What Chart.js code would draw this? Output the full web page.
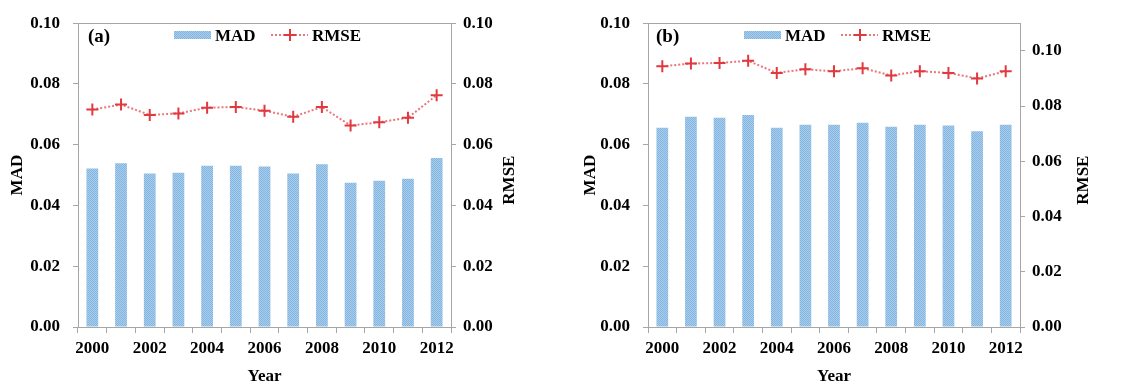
<!DOCTYPE html>
<html>
<head>
<meta charset="utf-8">
<script src="https://cdn.jsdelivr.net/npm/chart.js@4.4.1/dist/chart.umd.min.js"></script>
<style>
  html, body { margin: 0; padding: 0; background: #ffffff; }
  #wrap { position: relative; width: 1141px; height: 385px; overflow: hidden; }
  .panel { position: absolute; top: 0; height: 385px; }
  #pa { left: 0; width: 570px; }
  #pb { left: 570px; width: 571px; }
</style>
</head>
<body>
<div id="wrap">
  <div class="panel" id="pa"><canvas id="chartA"></canvas></div>
  <div class="panel" id="pb"><canvas id="chartB"></canvas></div>
</div>
<script>
// Years on the x axis
const years = ['2000', '2001', '2002', '2003', '2004', '2005', '2006',
               '2007', '2008', '2009', '2010', '2011', '2012'];

// Panel (a)
const madA  = [0.0522, 0.0539, 0.0505, 0.0508, 0.0531, 0.0531, 0.0528,
               0.0505, 0.0536, 0.0475, 0.0481, 0.0488, 0.0556];
const rmseA = [0.0716, 0.0732, 0.0698, 0.0703, 0.0722, 0.0724, 0.0712,
               0.0692, 0.0724, 0.0663, 0.0674, 0.0689, 0.0763];

// Panel (b)
const madB  = [0.0656, 0.0692, 0.0689, 0.0698, 0.0656, 0.0666, 0.0666,
               0.0672, 0.0659, 0.0666, 0.0663, 0.0644, 0.0666];
const rmseB = [0.0944, 0.0954, 0.0956, 0.0964, 0.0920, 0.0933, 0.0926,
               0.0937, 0.0911, 0.0926, 0.0920, 0.0900, 0.0926];

// Axis ranges
const madMax   = 0.10;
const rmseMaxA = 0.10;
const rmseMaxB = 0.11;
const tickStep = 0.02;

const FONT_FAMILY = "'Liberation Serif', 'Times New Roman', serif";
const AXIS_GRAY = '#a6a6a6';
const LINE_RED = '#e9777b';
const MARK_RED = '#e0393f';

// Fine blue checkerboard fill used by the MAD bars
function checkerFill() {
  const c = document.createElement('canvas');
  c.width = 2; c.height = 2;
  const g = c.getContext('2d');
  g.fillStyle = '#a9cdea';
  g.fillRect(0, 0, 2, 2);
  g.fillStyle = '#82b5df';
  g.fillRect(0, 0, 1, 1);
  g.fillRect(1, 1, 1, 1);
  return g.createPattern(c, 'repeat');
}

// Top edge of the plot frame
const frameTop = {
  id: 'frameTop',
  afterDatasetsDraw(chart) {
    const { ctx, chartArea: ca } = chart;
    ctx.save();
    ctx.strokeStyle = AXIS_GRAY;
    ctx.lineWidth = 1;
    ctx.beginPath();
    ctx.moveTo(ca.left, Math.round(ca.top) + 0.5);
    ctx.lineTo(ca.right, Math.round(ca.top) + 0.5);
    ctx.stroke();
    ctx.restore();
  }
};

// Panel tag, in-plot legend and right-hand axis title
const annotations = {
  id: 'annotations',
  afterDraw(chart, args, opts) {
    const { ctx, chartArea: ca } = chart;
    const line = chart.data.datasets[0];
    const bar = chart.data.datasets[1];
    ctx.save();

    // panel tag
    ctx.fillStyle = '#000';
    ctx.textAlign = 'left';
    ctx.textBaseline = 'alphabetic';
    ctx.font = 'bold 19px ' + FONT_FAMILY;
    ctx.fillText(opts.tag, ca.left + opts.tagX, 42);

    // legend: bar swatch
    const lx = ca.left + 96;
    ctx.fillStyle = bar.backgroundColor;
    ctx.fillRect(lx, 31, 37, 8);
    ctx.fillStyle = '#000';
    ctx.font = 'bold 17px ' + FONT_FAMILY;
    ctx.fillText(bar.label, lx + 41, 41);

    // legend: dotted line with cross marker
    const sx = ca.left + 193;
    ctx.strokeStyle = line.borderColor;
    ctx.lineWidth = line.borderWidth;
    ctx.setLineDash(line.borderDash);
    ctx.beginPath();
    ctx.moveTo(sx, 35);
    ctx.lineTo(sx + 37, 35);
    ctx.stroke();
    ctx.setLineDash([]);
    ctx.strokeStyle = line.pointBorderColor;
    ctx.lineWidth = line.pointBorderWidth;
    const r = line.pointRadius;
    const cx = sx + 19;
    ctx.beginPath();
    ctx.moveTo(cx - r, 35); ctx.lineTo(cx + r, 35);
    ctx.moveTo(cx, 35 - r); ctx.lineTo(cx, 35 + r);
    ctx.stroke();
    ctx.fillStyle = '#000';
    ctx.fillText(line.label, sx + 41, 41);

    // right axis title, read bottom to top
    ctx.translate(opts.rightTitleX, (ca.top + ca.bottom) / 2 + 5);
    ctx.rotate(-Math.PI / 2);
    ctx.textAlign = 'center';
    ctx.textBaseline = 'middle';
    ctx.font = 'bold 17px ' + FONT_FAMILY;
    ctx.fillText(opts.rightTitle, 0, 0);
    ctx.restore();
  }
};

function makeChart(id, tag, mad, rmse, rmseMax, layout) {
  const ctx = document.getElementById(id).getContext('2d');
  const tickFont = { family: FONT_FAMILY, size: 17, weight: 'bold' };
  return new Chart(ctx, {
    type: 'bar',
    data: {
      labels: years,
      datasets: [
        {
          type: 'line',
          label: 'RMSE',
          data: rmse,
          yAxisID: 'y2',
          order: 0,
          borderColor: LINE_RED,
          borderWidth: 2,
          borderDash: [2, 2],
          tension: 0,
          fill: false,
          pointStyle: 'cross',
          pointRadius: 6,
          pointBorderWidth: 2,
          pointBorderColor: MARK_RED,
          pointBackgroundColor: MARK_RED
        },
        {
          type: 'bar',
          label: 'MAD',
          data: mad,
          yAxisID: 'y',
          order: 1,
          backgroundColor: checkerFill(),
          borderWidth: 0,
          barPercentage: 0.41,
          categoryPercentage: 1.0
        }
      ]
    },
    options: {
      responsive: true,
      maintainAspectRatio: false,
      animation: false,
      devicePixelRatio: 1,
      layout: { padding: { top: 18, left: 0, right: 0, bottom: 0 } },
      plugins: {
        legend: { display: false },
        tooltip: { enabled: false },
        annotations: {
          tag: tag,
          tagX: layout.tagX,
          rightTitle: 'RMSE',
          rightTitleX: layout.rightTitleX
        }
      },
      scales: {
        x: {
          offset: true,
          grid: {
            offset: true,
            drawOnChartArea: false,
            drawTicks: true,
            tickLength: 6,
            color: AXIS_GRAY
          },
          border: { display: true, color: AXIS_GRAY, width: 1 },
          ticks: {
            autoSkip: false,
            maxRotation: 0,
            minRotation: 0,
            padding: 5,
            color: '#000',
            font: tickFont,
            callback: function (v, i) { return i % 2 === 0 ? years[i] : ''; }
          },
          title: {
            display: true,
            text: 'Year',
            color: '#000',
            font: { family: FONT_FAMILY, size: 17, weight: 'bold', lineHeight: 1 },
            padding: { top: 0, bottom: 0 }
          },
          afterFit: function (s) { s.height = 58; }
        },
        y: {
          position: 'left',
          min: 0,
          max: madMax,
          grid: {
            drawOnChartArea: false,
            drawTicks: true,
            tickLength: 5,
            color: AXIS_GRAY
          },
          border: { display: true, color: AXIS_GRAY, width: 1 },
          ticks: {
            stepSize: tickStep,
            padding: 13,
            color: '#000',
            font: tickFont,
            callback: function (v) { return v.toFixed(2); }
          },
          title: {
            display: true,
            text: 'MAD',
            color: '#000',
            font: { family: FONT_FAMILY, size: 17, weight: 'bold', lineHeight: 1 },
            padding: { top: layout.leftTitlePad, bottom: 0 }
          },
          afterFit: function (s) { s.width = 78; }
        },
        y2: {
          position: 'right',
          min: 0,
          max: rmseMax,
          grid: {
            drawOnChartArea: false,
            drawTicks: true,
            tickLength: 5,
            color: AXIS_GRAY
          },
          border: { display: true, color: AXIS_GRAY, width: 1 },
          ticks: {
            stepSize: tickStep,
            includeBounds: false,
            padding: 7,
            color: '#000',
            font: tickFont,
            callback: function (v) { return v.toFixed(2); }
          },
          afterFit: function (s) { s.width = layout.rightWidth; }
        }
      }
    },
    plugins: [frameTop, annotations]
  });
}

makeChart('chartA', '(a)', madA, rmseA, rmseMaxA,
          { tagX: 10, rightTitleX: 510, leftTitlePad: 9, rightWidth: 119 });
makeChart('chartB', '(b)', madB, rmseB, rmseMaxB,
          { tagX: 8, rightTitleX: 514, leftTitlePad: 12, rightWidth: 121 });
</script>
</body>
</html>
